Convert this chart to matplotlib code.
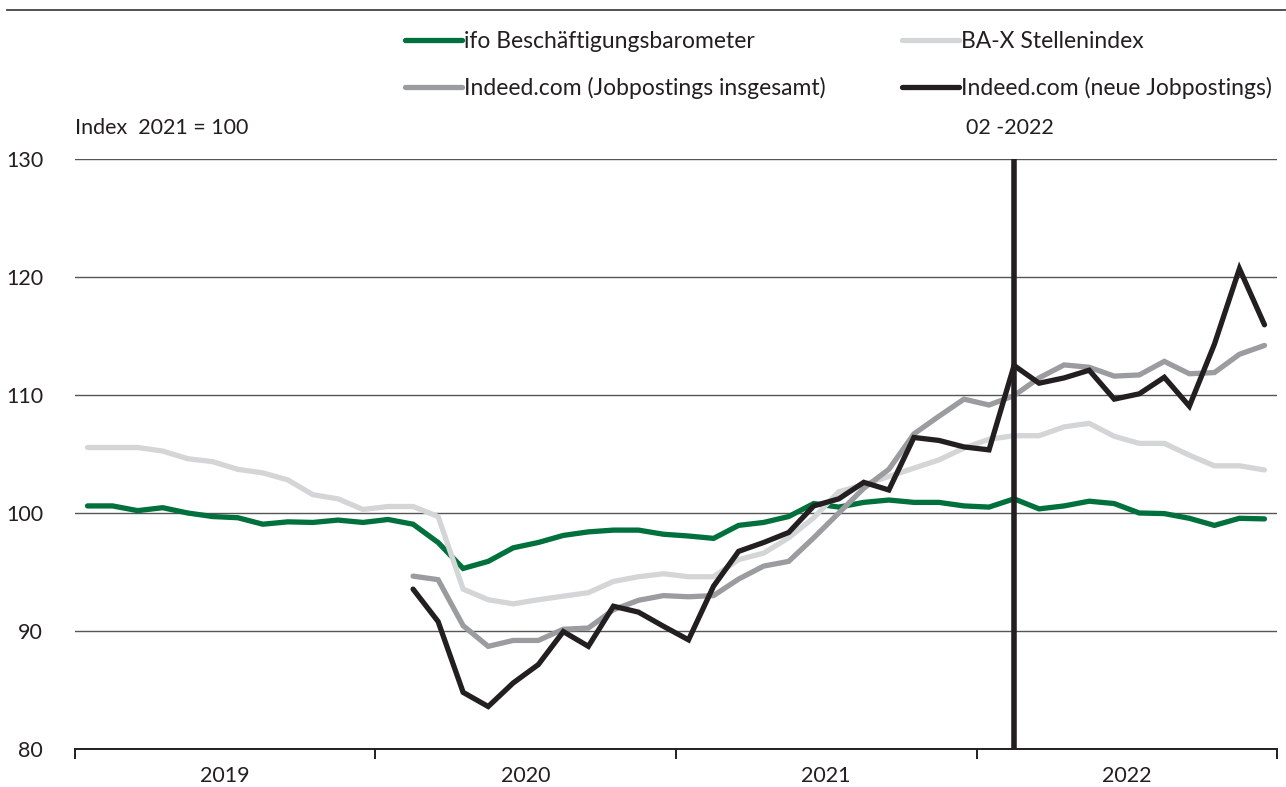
import numpy as np
import matplotlib.pyplot as plt
from matplotlib.lines import Line2D

# Monthly values, Jan 2019 - Dec 2022 (Index 2021 = 100)
years = ["2019", "2020", "2021", "2022"]

ifo = [100.6, 100.6, 100.2, 100.45, 100.0, 99.7, 99.6, 99.05, 99.25, 99.2, 99.4, 99.2,
       99.45, 99.05, 97.5, 95.3, 95.9, 97.05, 97.5, 98.1, 98.4, 98.55, 98.55, 98.2,
       98.05, 97.85, 98.95, 99.2, 99.7, 100.8, 100.5, 100.9, 101.1, 100.9, 100.9, 100.6,
       100.5, 101.2, 100.35, 100.6, 101.0, 100.8, 100.0, 99.95, 99.55, 98.95, 99.55, 99.5]

bax = [105.55, 105.55, 105.55, 105.25, 104.6, 104.35, 103.7, 103.4, 102.8, 101.55, 101.2, 100.3,
       100.55, 100.55, 99.7, 93.55, 92.65, 92.3, 92.65, 92.95, 93.25, 94.2, 94.6, 94.85,
       94.6, 94.6, 96.05, 96.6, 97.9, 99.6, 101.8, 102.4, 103.1, 103.8, 104.5, 105.5,
       106.25, 106.55, 106.55, 107.3, 107.6, 106.5, 105.9, 105.9, 104.9, 104.0, 104.0, 103.65]

# Indeed series start in Feb 2020
indeed_start = 13
indeed_total = [94.65, 94.35, 90.45, 88.7, 89.2, 89.2, 90.15, 90.25, 91.8, 92.6, 93.0,
                92.9, 93.0, 94.4, 95.5, 95.9, 97.9, 100.0, 102.1, 103.7, 106.7, 108.2, 109.65,
                109.15, 109.95, 111.45, 112.55, 112.35, 111.6, 111.7, 112.85, 111.8, 111.9, 113.45, 114.2]
indeed_new = [93.55, 90.8, 84.8, 83.6, 85.6, 87.15, 89.95, 88.7, 92.1, 91.6, 90.4,
              89.25, 93.8, 96.75, 97.5, 98.35, 100.6, 101.2, 102.6, 101.95, 106.4, 106.15, 105.6,
              105.35, 112.5, 111.0, 111.45, 112.1, 109.65, 110.1, 111.5, 109.05, 114.3, 120.7, 115.95]

marker_month = 37  # 02-2022

labels = ["ifo Beschäftigungsbarometer", "BA-X Stellenindex",
          "Indeed.com (Jobpostings insgesamt)", "Indeed.com (neue Jobpostings)"]
colors = ["#00703c", "#d4d5d7", "#9b9ca0", "#231f20"]

plt.rcParams['font.family'] = ['Lato', 'DejaVu Sans']
fs = 15.5
fs_leg = 16.5

fig = plt.figure(figsize=(12.86, 7.87), dpi=100)
ax = fig.add_axes([75 / 1286, 1 - 749 / 787, (1277 - 75) / 1286, (749 - 159) / 787])

x_all = np.arange(len(ifo))
x_ind = np.arange(indeed_start, indeed_start + len(indeed_total))

lw = 3.8
ax.plot(x_all, ifo, color=colors[0], lw=lw, solid_capstyle='round', solid_joinstyle='miter', zorder=3)
ax.plot(x_all, bax, color=colors[1], lw=lw, solid_capstyle='round', solid_joinstyle='miter', zorder=4)
ax.plot(x_ind, indeed_total, color=colors[2], lw=lw, solid_capstyle='round', solid_joinstyle='miter', zorder=5)
ax.plot(x_ind, indeed_new, color=colors[3], lw=lw, solid_capstyle='round', solid_joinstyle='miter', zorder=6)

ax.axvline(marker_month, color="#231f20", lw=4, zorder=7)

ax.set_xlim(-0.5, len(ifo) - 0.5)
ax.set_ylim(80, 130)

# grid
ax.set_yticks([80, 90, 100, 110, 120, 130])
ax.yaxis.grid(True, color="#555555", lw=1.0)
ax.set_axisbelow(True)
ax.tick_params(axis='y', length=0, pad=23, labelsize=fs, labelcolor="#231f20")

for s in ["top", "right", "left"]:
    ax.spines[s].set_visible(False)
ax.spines["bottom"].set_color("#231f20")
ax.spines["bottom"].set_linewidth(1.4)

ax.set_xticks(np.arange(-0.5, len(ifo), 12))
ax.set_xticklabels([])
ax.tick_params(axis='x', which='major', length=7, width=1.4, color="#231f20", direction='out')
ax.set_xticks(np.arange(5.5, len(ifo), 12), minor=True)
ax.set_xticklabels(years, minor=True)
ax.tick_params(axis='x', which='minor', length=0, pad=12, labelsize=fs, labelcolor="#231f20")

ax.text(-0.5, 132.6, "Index  2021 = 100", fontsize=fs, color="#231f20", ha='left', va='center')
ax.text(marker_month - 0.15, 132.6, "02 -2022", fontsize=fs, color="#231f20", ha='center', va='center')

# top rule
fig.add_artist(Line2D([7 / 1286, 1], [1 - 10 / 787, 1 - 10 / 787], color="#444444", lw=1.3))

# legend: two rows, filled column-wise
handles = [Line2D([], [], color=c, lw=lw, solid_capstyle='round') for c in colors]
order = [0, 2, 1, 3]
fig.legend([handles[i] for i in order], [labels[i] for i in order], ncol=2, loc='upper left',
           bbox_to_anchor=(405 / 1286, 1 - 31 / 787),
           frameon=False, fontsize=fs_leg, handlelength=2.5, handletextpad=0.09,
           columnspacing=3.3, labelspacing=1.1, borderpad=0, borderaxespad=0,
           labelcolor="#231f20")

fig.savefig("out.png", dpi=100)
